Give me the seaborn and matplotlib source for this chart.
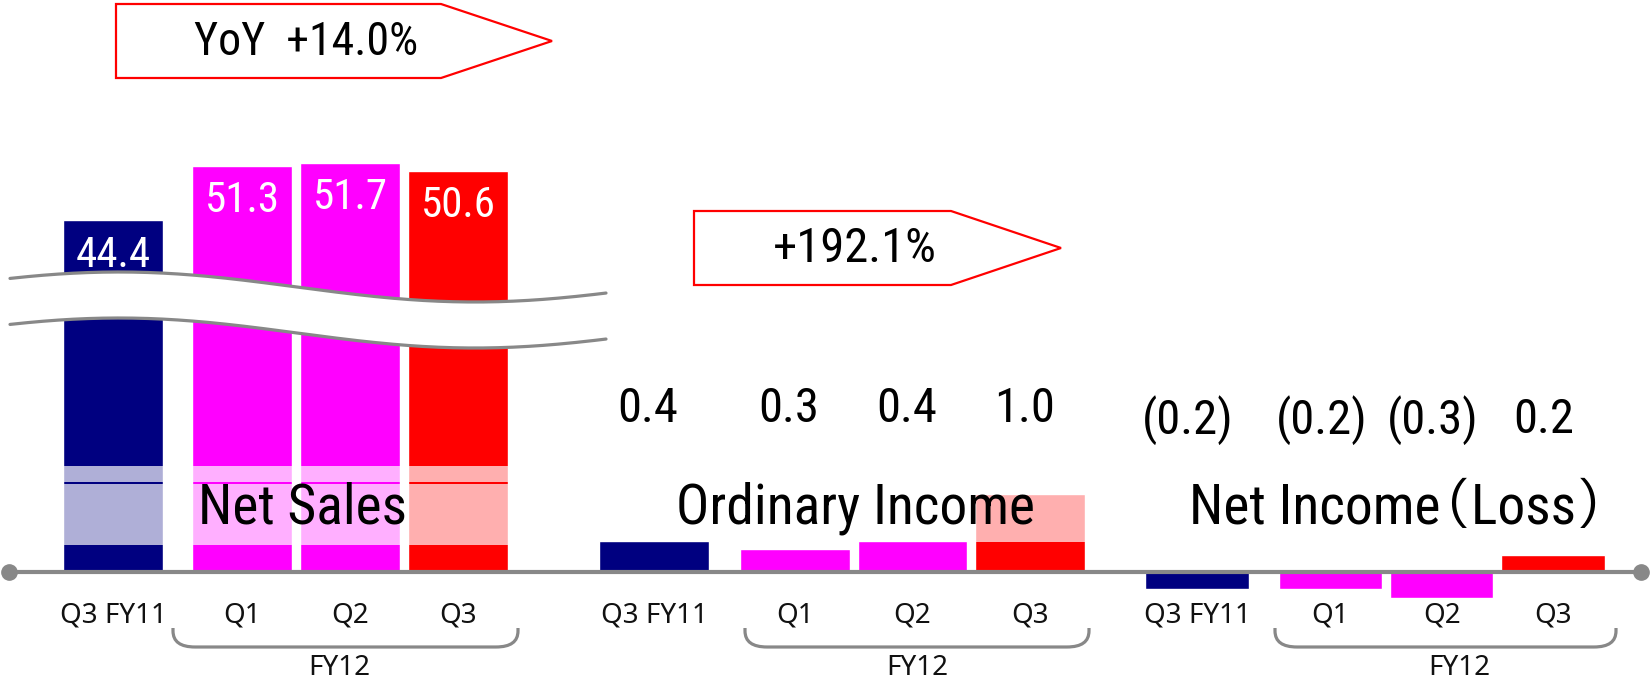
import matplotlib
matplotlib.use("Agg")
import matplotlib.pyplot as plt
import numpy as np
import pandas as pd
import seaborn as sns
from matplotlib import font_manager
from matplotlib.patches import Polygon, PathPatch
from matplotlib.path import Path

# ---- data ----
periods = ["Q3 FY11", "Q1", "Q2", "Q3"]
net_sales = [44.4, 51.3, 51.7, 50.6]
ordinary_income = [0.4, 0.3, 0.4, 1.0]
net_income = [-0.2, -0.2, -0.3, 0.2]
metric_labels = ["Net Sales", "Ordinary Income", "Net Income（Loss）"]
group_label = "FY12"
growth_sales = "YoY  +14.0%"
growth_ordinary = "+192.1%"

palette = {"Q3 FY11": "#000080", "Q1": "#FF00FF", "Q2": "#FF00FF", "Q3": "#FF0000"}

# ---- layout (pixels, origin top-left) ----
W, H = 1652, 685
BASE_Y = 572          # zero line
AX_BOTTOM = 599       # bottom edge of the data axes
x_pos = [0, 1.2, 2.2, 3.2]
GRAY = "#888888"

sns.set_theme(style="white")
available = {f.name for f in font_manager.fontManager.ttflist}
narrow = "Roboto Condensed" if "Roboto Condensed" in available else "Liberation Sans"
jp = "IPAPGothic" if "IPAPGothic" in available else "Noto Sans CJK JP"
big_font = [narrow, jp, "DejaVu Sans"]
tick_font = ["Noto Sans", "DejaVu Sans"]
plt.rcParams["font.family"] = big_font
plt.rcParams["text.color"] = "black"

fig = plt.figure(figsize=(W / 100, H / 100), dpi=100)


def data_axes(center0, unit, scale, ytop):
    """Invisible axes whose zero sits on the common baseline."""
    left = center0 - 0.6 * unit
    ylow = -(AX_BOTTOM - BASE_Y) / scale
    height = (ytop - ylow) * scale
    ax = fig.add_axes([left / W, (H - AX_BOTTOM) / H, 4.4 * unit / W, height / H])
    ax.patch.set_alpha(0)
    ax.set_ylim(ylow, ytop)
    return ax, scale


def draw_group(ax, values):
    df = pd.DataFrame({"pos": x_pos, "period": periods, "value": values})
    ylim = ax.get_ylim()
    sns.barplot(data=df, x="pos", y="value", hue="period", palette=palette,
                native_scale=True, dodge=False, width=0.93, legend=False,
                saturation=1, ax=ax)
    ax.set_ylim(ylim)
    ax.set_xlim(-0.6, 3.8)
    ax.set_xticks(x_pos, periods)
    ax.tick_params(axis="x", length=0, pad=2)
    for lab in ax.get_xticklabels():
        lab.set_fontfamily(tick_font)
        lab.set_fontsize(20)
        lab.set_color("#111111")
    ax.set_yticks([])
    ax.set_xlabel("")
    ax.set_ylabel("")
    sns.despine(ax=ax, left=True, bottom=True)


def px_to_data(scale, ypx):
    return (BASE_Y - ypx) / scale


# Net Sales
ax1, s1 = data_axes(113, 107.8, 7.92, 60)
draw_group(ax1, net_sales)
ax1.axhspan(px_to_data(s1, 482), px_to_data(s1, 466), color="white", alpha=0.69, lw=0, zorder=3)
ax1.axhspan(px_to_data(s1, 545), px_to_data(s1, 483.5), color="white", alpha=0.69, lw=0, zorder=3)
for x, v in zip(x_pos, net_sales):
    ax1.annotate(f"{v:.1f}", (x, v), xytext=(0, -25), textcoords="offset points",
                 ha="center", va="center", color="white", fontsize=31, zorder=4)

# Ordinary Income
ax2, s2 = data_axes(654, 117.5, 78, 2.0)
draw_group(ax2, ordinary_income)
ax2.axhspan(px_to_data(s2, 541.5), px_to_data(s2, 494), color="white", alpha=0.69, lw=0, zorder=3)
for x, v in zip(x_pos, ordinary_income):
    ax2.text(x - 0.05, px_to_data(s2, 409), f"{v:.1f}", ha="center", va="center", fontsize=35)

# Net Income (Loss)
ax3, s3 = data_axes(1197, 111.2, 85, 2.0)
draw_group(ax3, net_income)
for x, v in zip(x_pos, net_income):
    txt = f"({abs(v):.1f})" if v < 0 else f"{v:.1f}"
    ax3.text(x - 0.08, px_to_data(s3, 420), txt, ha="center", va="center", fontsize=35)

# ---- overlay: baseline, break marks, brackets, callouts ----
ov = fig.add_axes([0, 0, 1, 1], zorder=10)
ov.set_xlim(0, W)
ov.set_ylim(H, 0)
ov.axis("off")
ov.patch.set_alpha(0)

ov.plot([9, 1641], [BASE_Y, BASE_Y], color=GRAY, lw=3, marker="o", markersize=11,
        solid_capstyle="butt")

# axis break (two waves with white between)
wx = np.linspace(10, 606, 200)
wave = 287 + 15 * np.cos(2 * np.pi * (wx - 475) / 712)
ov.fill_between(wx, wave, wave + 46, color="white", lw=0)
ov.plot(wx, wave, color=GRAY, lw=2.3)
ov.plot(wx, wave + 46, color=GRAY, lw=2.3)

# FY12 brackets
for x1, x2, cx in [(173, 518, 339), (745, 1089, 917), (1275, 1616, 1459)]:
    verts = [(x1, 628), (x1, 631), (x1, 647), (x1 + 22, 647), (x2 - 22, 647),
             (x2, 647), (x2, 631), (x2, 628)]
    codes = [Path.MOVETO, Path.LINETO, Path.CURVE3, Path.CURVE3, Path.LINETO,
             Path.CURVE3, Path.CURVE3, Path.LINETO]
    ov.add_patch(PathPatch(Path(verts, codes), fill=False, edgecolor=GRAY, lw=2.3))
    ov.text(cx, 668, group_label, ha="center", va="center", fontsize=20,
            family=tick_font, color="#111111")

# growth callouts
for (l, r, tip, top, bot), label, cx, fs in [((116, 441, 552, 4, 78), growth_sales, 306, 33),
                                             ((694, 951, 1061, 211, 285), growth_ordinary, 855, 35)]:
    mid = (top + bot) / 2
    ov.add_patch(Polygon([(l, top), (r, top), (tip, mid), (r, bot), (l, bot)],
                         closed=True, facecolor="white", edgecolor="#FF0000", lw=1.6))
    ov.text(cx, mid + 1, label, ha="center", va="center", fontsize=fs)

# metric titles
for cx, label in zip([302, 855, 1398], metric_labels):
    ov.text(cx, 508, label, ha="center", va="center", fontsize=40)

fig.savefig("out.png", dpi=100)
